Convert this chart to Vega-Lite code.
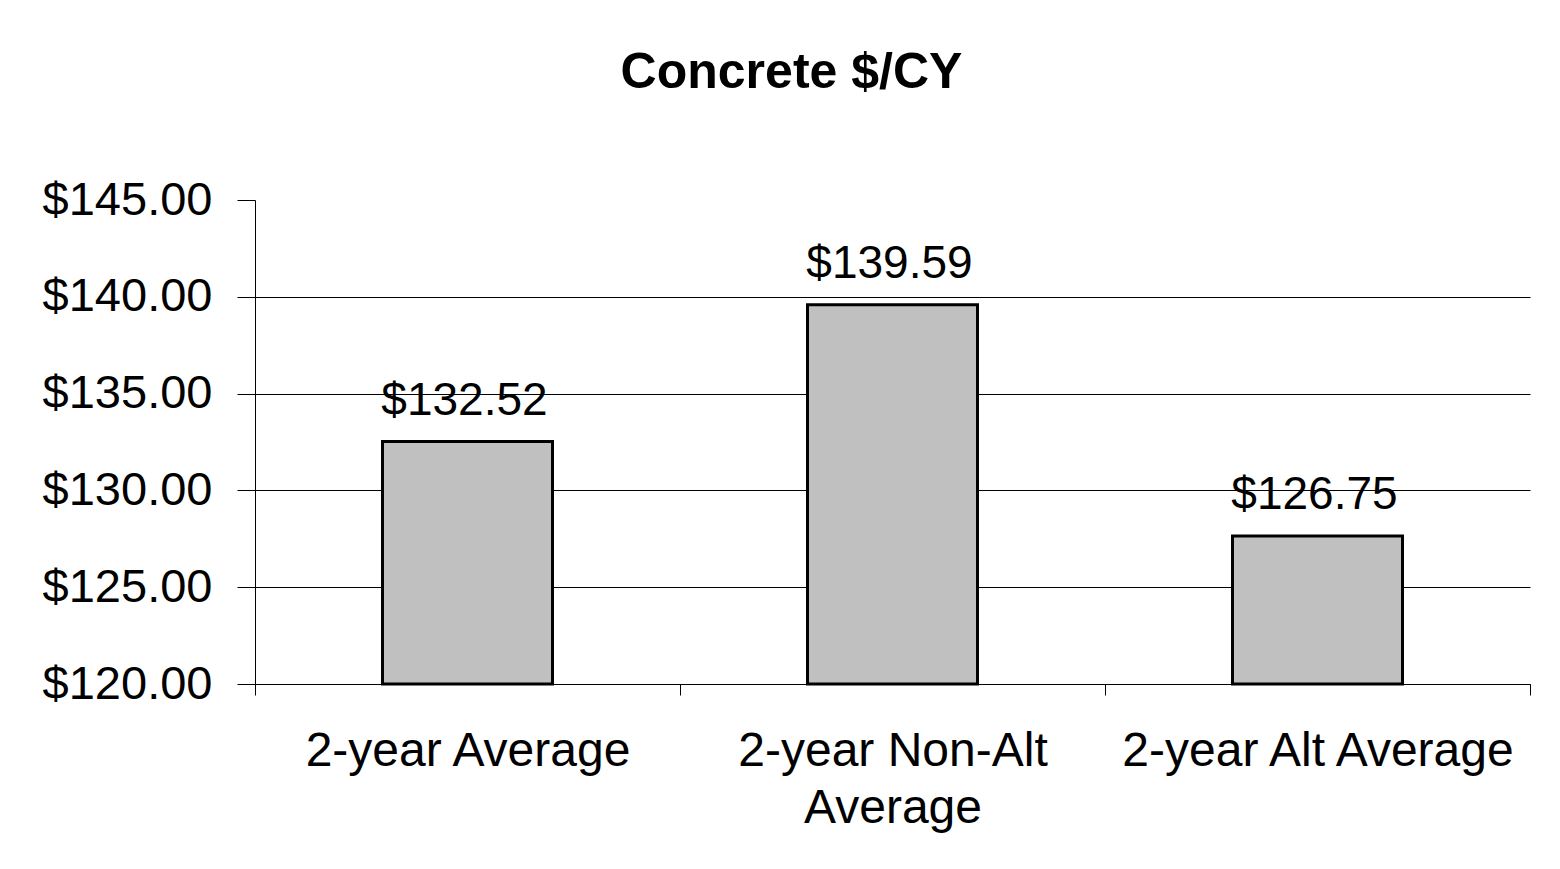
{
  "$schema": "https://vega.github.io/schema/vega-lite/v6.json",
  "width": 1275,
  "height": 484,
  "autosize": {"type": "none"},
  "padding": {"left": 255, "top": 200, "right": 30, "bottom": 185},
  "background": "white",
  "title": {
    "text": "Concrete $/CY",
    "font": "Liberation Sans",
    "fontSize": 50,
    "fontWeight": "bold",
    "color": "black",
    "anchor": "middle",
    "frame": "group",
    "dx": -101,
    "offset": 78
  },
  "data": {
    "values": [
      {"category": "2-year Average", "value": 132.52, "label": "$132.52"},
      {"category": "2-year Non-Alt Average", "value": 139.59, "label": "$139.59"},
      {"category": "2-year Alt Average", "value": 127.64, "label": "$126.75"}
    ]
  },
  "encoding": {
    "x": {
      "field": "category",
      "type": "nominal",
      "sort": null,
      "title": null,
      "scale": {"paddingInner": 0, "paddingOuter": 0},
      "axis": {
        "labelAngle": 0,
        "labelFont": "Liberation Sans",
        "labelFontSize": 48,
        "labelColor": "black",
        "labelPadding": 32,
        "labelLineHeight": 57,
        "labelExpr": "datum.value == '2-year Non-Alt Average' ? ['2-year Non-Alt', 'Average'] : datum.value",
        "tickBand": "extent",
        "tickSize": 11,
        "tickColor": "black",
        "domainColor": "black",
        "labelLimit": 0
      }
    },
    "y": {
      "field": "value",
      "type": "quantitative",
      "title": null,
      "scale": {"domain": [120, 145], "nice": false, "zero": false},
      "axis": {
        "values": [120, 125, 130, 135, 140, 145],
        "format": "$,.2f",
        "labelFont": "Liberation Sans",
        "labelFontSize": 47,
        "labelColor": "black",
        "labelPadding": 25,
        "tickSize": 18,
        "tickColor": "black",
        "domainColor": "black",
        "grid": true,
        "gridColor": "black",
        "gridWidth": 1,
        "gridOpacity": {"condition": {"test": "datum.value == 145", "value": 0}, "value": 1}
      }
    }
  },
  "layer": [
    {
      "mark": {"type": "bar", "fill": "#C0C0C0", "stroke": "black", "strokeWidth": 3, "width": {"band": 0.4}},
      "encoding": {"y2": {"datum": 120}}
    },
    {
      "mark": {
        "type": "text",
        "font": "Liberation Sans",
        "fontSize": 46,
        "color": "black",
        "baseline": "alphabetic",
        "dx": -3,
        "dy": -27
      },
      "encoding": {"text": {"field": "label"}}
    }
  ],
  "config": {"view": {"stroke": null}}
}
